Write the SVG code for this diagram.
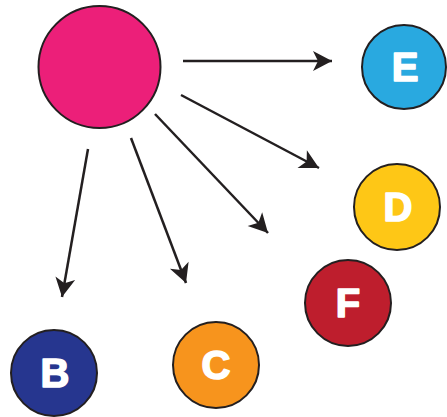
<svg xmlns="http://www.w3.org/2000/svg" width="447" height="417" viewBox="0 0 447 417">
<defs>
<marker id="ah" markerUnits="userSpaceOnUse" markerWidth="24" markerHeight="24" viewBox="-2 -12 24 24" refX="19" refY="0" orient="auto">
<path d="M0,-10 L19,0 L0,10 L5,0 Z" fill="#231f20"/>
</marker>
</defs>
<style>
.n{stroke:#231f20;stroke-width:2}
.t{fill:#fff;stroke:#fff;stroke-width:1.6;stroke-linejoin:round;font-family:"Liberation Sans",Arial,sans-serif;font-weight:bold;font-size:40px;text-anchor:middle}
.c{stroke:#231f20;stroke-width:2.5;fill:none;marker-end:url(#ah)}
</style>
<g id="connectors">
<line class="c" x1="183" y1="61" x2="332" y2="61"/>
<line class="c" x1="181" y1="95" x2="319" y2="168"/>
<line class="c" x1="155" y1="114" x2="268" y2="233"/>
<line class="c" x1="131" y1="138" x2="186" y2="283"/>
<line class="c" x1="88" y1="149" x2="62" y2="297"/>
</g>
<g id="A"><circle class="n" cx="99.5" cy="67" r="61" fill="#ec1f79"/></g>
<g id="E"><circle class="n" cx="404" cy="67" r="42" fill="#29a9e0"/><text class="t" x="405" y="81">E</text></g>
<g id="D"><circle class="n" cx="397" cy="207" r="43" fill="#fec716"/><text class="t" x="398" y="221">D</text></g>
<g id="F"><circle class="n" cx="348" cy="303" r="43" fill="#be1e2d"/><text class="t" x="348" y="317">F</text></g>
<g id="B"><circle class="n" cx="54" cy="373" r="43" fill="#26368f"/><text class="t" x="55" y="387">B</text></g>
<g id="C"><circle class="n" cx="216" cy="365" r="43" fill="#f7941d"/><text class="t" x="216" y="379">C</text></g>
</svg>
